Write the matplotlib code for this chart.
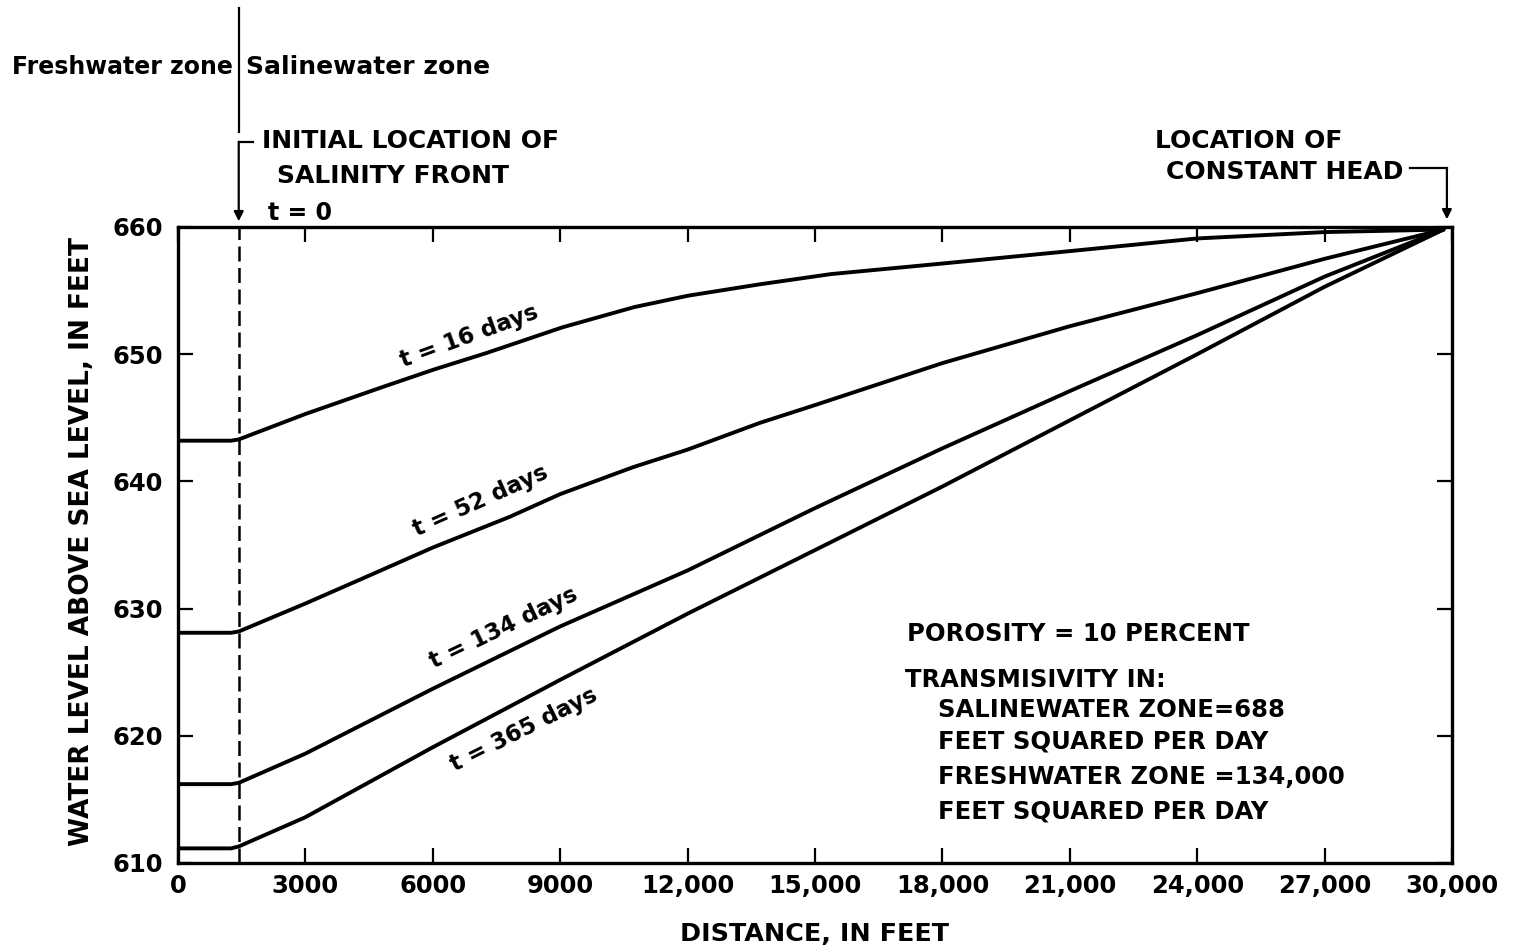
import matplotlib
matplotlib.use("Agg")
import matplotlib.pyplot as plt

plt.rcParams['font.family'] = ['DejaVu Sans']
plt.rcParams['font.weight'] = 'bold'

# Water level (ft above sea level) versus distance (ft) for each elapsed time
dist_16 = [0, 1250, 1430, 3000, 4800, 6030, 7270, 9040, 10740, 12010, 13710, 15380, 17910, 20990, 24000, 27000, 29800]
head_16 = [643.2, 643.2, 643.3, 645.3, 647.4, 648.8, 650.1, 652.1, 653.7, 654.6, 655.5, 656.3, 657.1, 658.1, 659.1, 659.6, 659.8]

dist_52 = [0, 1250, 1430, 3000, 4300, 6000, 7800, 9000, 10700, 12000, 13700, 15000, 18000, 21000, 24000, 27000, 29800]
head_52 = [628.1, 628.1, 628.2, 630.4, 632.3, 634.8, 637.2, 639.0, 641.1, 642.5, 644.6, 646.0, 649.3, 652.2, 654.8, 657.5, 659.8]

dist_134 = [0, 1250, 1430, 3000, 6000, 9000, 12000, 15000, 18000, 21000, 24000, 27000, 29800]
head_134 = [616.2, 616.2, 616.3, 618.6, 623.7, 628.6, 633.0, 637.9, 642.6, 647.1, 651.5, 656.1, 659.8]

dist_365 = [0, 1250, 1430, 3000, 6000, 9000, 12000, 15000, 18000, 21000, 24000, 27000, 29800]
head_365 = [611.15, 611.15, 611.3, 613.6, 619.1, 624.4, 629.6, 634.6, 639.6, 644.8, 650.0, 655.3, 659.8]

curve_labels = ["t = 16 days", "t = 52 days", "t = 134 days", "t = 365 days"]
label_pos = [(6850, 651.4), (7135, 638.5), (7680, 628.5), (8150, 620.5)]
label_rot = [20, 24, 25.5, 26.5]

x_ticks = [0, 3000, 6000, 9000, 12000, 15000, 18000, 21000, 24000, 27000, 30000]
x_tick_labels = ["0", "3000", "6000", "9000", "12,000", "15,000", "18,000",
                 "21,000", "24,000", "27,000", "30,000"]
y_ticks = [610, 620, 630, 640, 650, 660]
y_tick_labels = ["610", "620", "630", "640", "650", "660"]

front_x = 1430          # initial location of the salinity front
head_x = 29880          # location of the constant head

W, H = 1522, 949
fig = plt.figure(figsize=(W / 100, H / 100), dpi=100)
ax = fig.add_axes([178 / W, 1 - 863 / H, (1452 - 178) / W, (863 - 227) / H])


def fx(px):
    return px / W


def fy(py):
    return 1 - py / H


for d, h in [(dist_16, head_16), (dist_52, head_52), (dist_134, head_134), (dist_365, head_365)]:
    ax.plot(d, h, color='black', lw=2.8, solid_joinstyle='round', solid_capstyle='round')

ax.plot([front_x, front_x], [610, 660], color='black', lw=1.8, dashes=(6.0, 2.6))

for txt, (lx, ly), rot in zip(curve_labels, label_pos, label_rot):
    ax.text(lx, ly, txt, rotation=rot, rotation_mode='anchor', ha='center', va='center',
            fontsize=16.5, fontweight='bold')

ax.set_xlim(0, 30000)
ax.set_ylim(610, 660)
ax.set_xticks(x_ticks)
ax.set_xticklabels(x_tick_labels)
ax.set_yticks(y_ticks)
ax.set_yticklabels(y_tick_labels)
ax.tick_params(axis='both', direction='in', length=11, width=1.6, labelsize=17.5,
               top=True, right=True, colors='black')
ax.tick_params(axis='x', pad=8)
ax.tick_params(axis='y', pad=11)
for lab in ax.get_xticklabels() + ax.get_yticklabels():
    lab.set_fontweight('bold')
for sp in ax.spines.values():
    sp.set_linewidth(2.4)

# Annotations above the plotting area
ax.plot([front_x, front_x], [667.47, 677.2], color='black', lw=1.6, clip_on=False)
ax.plot([1766, front_x], [666.7, 666.7], color='black', lw=1.6, clip_on=False)
ax.annotate('', xy=(front_x, 660.45), xytext=(front_x, 666.7), annotation_clip=False,
            arrowprops=dict(arrowstyle='-|>', lw=1.6, color='black', mutation_scale=14,
                            shrinkA=0, shrinkB=0))
ax.plot([29010, head_x], [664.6, 664.6], color='black', lw=1.6, clip_on=False)
ax.annotate('', xy=(head_x, 660.6), xytext=(head_x, 664.6), annotation_clip=False,
            arrowprops=dict(arrowstyle='-|>', lw=1.6, color='black', mutation_scale=14,
                            shrinkA=0, shrinkB=0))

fig.text(fx(233), fy(67), "Freshwater zone", ha='right', va='center', fontsize=17, fontweight='bold')
fig.text(fx(246), fy(67), "Salinewater zone", ha='left', va='center', fontsize=18, fontweight='bold')
fig.text(fx(262), fy(141), "INITIAL LOCATION OF", ha='left', va='center', fontsize=18, fontweight='bold')
fig.text(fx(277), fy(176), "SALINITY FRONT", ha='left', va='center', fontsize=18, fontweight='bold')
fig.text(fx(268), fy(213), "t = 0", ha='left', va='center', fontsize=17, fontweight='bold')
fig.text(fx(1155), fy(141), "LOCATION OF", ha='left', va='center', fontsize=18, fontweight='bold')
fig.text(fx(1403), fy(172), "CONSTANT HEAD", ha='right', va='center', fontsize=18, fontweight='bold')

# Aquifer properties
fig.text(fx(907), fy(634), "POROSITY = 10 PERCENT", ha='left', va='center', fontsize=17.5, fontweight='bold')
fig.text(fx(905), fy(680), "TRANSMISIVITY IN:", ha='left', va='center', fontsize=17.5, fontweight='bold')
fig.text(fx(938), fy(710), "SALINEWATER ZONE=688", ha='left', va='center', fontsize=17.5, fontweight='bold')
fig.text(fx(938), fy(742), "FEET SQUARED PER DAY", ha='left', va='center', fontsize=17.5, fontweight='bold')
fig.text(fx(938), fy(777), "FRESHWATER ZONE =134,000", ha='left', va='center', fontsize=17.5, fontweight='bold')
fig.text(fx(938), fy(811), "FEET SQUARED PER DAY", ha='left', va='center', fontsize=17.5, fontweight='bold')

fig.text(fx(814), fy(934), "DISTANCE, IN FEET", ha='center', va='center', fontsize=18.3, fontweight='bold')
fig.text(fx(82), fy(541), "WATER LEVEL ABOVE SEA LEVEL, IN FEET", ha='center', va='center',
         rotation=90, fontsize=19, fontweight='bold')

fig.savefig("out.png", dpi=100, facecolor='white')
